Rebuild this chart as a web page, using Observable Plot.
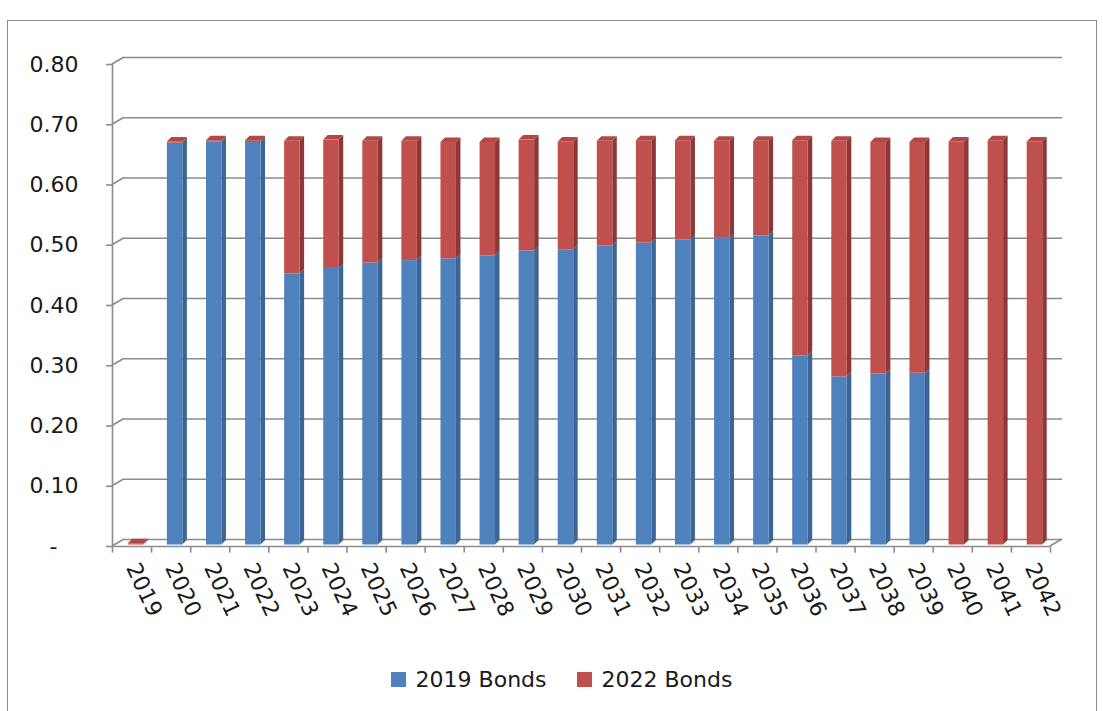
<!DOCTYPE html>
<html>
<head>
<meta charset="utf-8">
<script src="https://cdn.jsdelivr.net/npm/d3@7"></script>
<script src="https://cdn.jsdelivr.net/npm/@observablehq/plot@0.6"></script>
<style>
  html, body { margin: 0; padding: 0; background: #fff; }
  #wrap { position: relative; width: 1103px; height: 711px; overflow: hidden; font-family: "DejaVu Sans", sans-serif; }
  #frame { position: absolute; left: 7px; top: 20px; width: 1090px; height: 700px; border: 1.5px solid #8c8c8c; box-sizing: border-box; }
  #chart { position: absolute; left: 0; top: 0; }
  #legend { position: absolute; top: 667px; left: 0; width: 1103px; display: flex; justify-content: center; gap: 30px; font-size: 22px; color: #1a1a1a; padding-left: 20px; box-sizing: border-box; }
  #legend span.item { display: flex; align-items: center; gap: 10px; }
  #legend span.sw { display: inline-block; width: 15px; height: 15px; }
</style>
</head>
<body>
<div id="wrap">
  <div id="frame"></div>
  <div id="chart"></div>
  <div id="legend"></div>
</div>
<script>
const years = [2019, 2020, 2021, 2022, 2023, 2024, 2025, 2026, 2027, 2028, 2029, 2030,
               2031, 2032, 2033, 2034, 2035, 2036, 2037, 2038, 2039, 2040, 2041, 2042];
const bonds2019 = [0, 0.667, 0.669, 0.668, 0.450, 0.459, 0.468, 0.472, 0.475, 0.480, 0.488, 0.490,
                   0.496, 0.501, 0.506, 0.509, 0.513, 0.314, 0.279, 0.284, 0.285, 0, 0, 0];
const bonds2022 = [0.002, 0.002, 0.002, 0.003, 0.220, 0.213, 0.202, 0.198, 0.193, 0.188, 0.184, 0.179,
                   0.174, 0.170, 0.165, 0.161, 0.157, 0.357, 0.391, 0.384, 0.383, 0.669, 0.671, 0.669];
const seriesNames = ["2019 Bonds", "2022 Bonds"];
const yTicks = [0, 0.1, 0.2, 0.3, 0.4, 0.5, 0.6, 0.7, 0.8];

const frontColor = {"2019 Bonds": "#4f81bd", "2022 Bonds": "#c0504d"};
const sideColor  = {"2019 Bonds": "#3a6595", "2022 Bonds": "#8e3835"};
const topColor   = {"2019 Bonds": "#5a8cc8", "2022 Bonds": "#b24744"};

// stacked table
const rows = [];
years.forEach((yr, i) => {
  const a = bonds2019[i], b = bonds2022[i];
  rows.push({year: yr, series: seriesNames[0], y1: 0, y2: a, top: b <= 0});
  rows.push({year: yr, series: seriesNames[1], y1: a, y2: a + b, top: b > 0});
});
const segs = rows.filter(d => d.y2 > d.y1);
const bounds = years.map(y => y - 0.5).concat([years[years.length - 1] + 0.5]);

const DX = 12, DY = -7;        // back-wall offset
const BX = 4, BY = -1.5;       // bar position (mid depth)
const EX = 4.5, EY = -4.5;     // bar extrusion
const INSET = 11.8;

// 3D faces (sides, tops) and wall diagonals, drawn with Plot's scales
function faces(index, scales) {
  const g = d3.create("svg:g");
  const x = scales.x, y = scales.y;
  for (const d of segs) {
    const xl = x(d.year - 0.5) + INSET + BX, xr = x(d.year + 0.5) - INSET + BX;
    const yt = y(d.y2) + BY, yb = y(d.y1) + BY;
    g.append("path")
      .attr("d", `M${xr},${yb}L${xr + EX},${yb + EY}L${xr + EX},${yt + EY}L${xr},${yt}Z`)
      .attr("fill", sideColor[d.series]);
    if (d.top) {
      g.append("path")
        .attr("d", `M${xl},${yt}L${xl + EX},${yt + EY}L${xr + EX},${yt + EY}L${xr},${yt}Z`)
        .attr("fill", topColor[d.series]);
    }
  }
  return g.node();
}
function walls(index, scales) {
  const g = d3.create("svg:g").attr("stroke", "#8c8c8c").attr("stroke-width", 1.6).attr("fill", "none");
  const x = scales.x, y = scales.y;
  const x0 = x(bounds[0]), x1 = x(bounds[bounds.length - 1]);
  for (const t of yTicks) {
    g.append("path").attr("d", `M${x0},${y(t)}L${x0 + DX},${y(t) + DY}`);
  }
  g.append("path").attr("d", `M${x1},${y(0)}L${x1 + DX},${y(0) + DY}`);
  return g.node();
}

const chart = Plot.plot({
  width: 1103,
  height: 640,
  marginLeft: 112,
  marginRight: 53,
  marginTop: 64,
  marginBottom: 94,
  style: {fontFamily: "DejaVu Sans, sans-serif", fontSize: "22px", background: "transparent", color: "#1a1a1a"},
  x: {type: "linear", domain: [bounds[0], bounds[bounds.length - 1]], axis: null},
  y: {domain: [0, 0.8], axis: null},
  marks: [
    Plot.ruleY(yTicks, {dx: DX, dy: DY, stroke: "#8c8c8c", strokeWidth: 1.6, strokeOpacity: 1}),
    walls,
    Plot.ruleY([0], {stroke: "#8c8c8c", strokeWidth: 1.6}),
    Plot.ruleX([bounds[0]], {y1: 0, y2: 0.8, stroke: "#8c8c8c", strokeWidth: 1.6}),
    Plot.ruleX(bounds, {y1: 0, y2: -0.011, stroke: "#8c8c8c", strokeWidth: 1.6}),
    Plot.axisY({ticks: yTicks, tickSize: 6, tickFormat: () => "", stroke: "#8c8c8c", strokeWidth: 1.6}),
    Plot.axisY({ticks: yTicks, tickSize: 0, tickPadding: 34, fill: "#1a1a1a", fontSize: 22,
                tickFormat: d => d === 0 ? "-\u00a0\u00a0\u00a0" : d.toFixed(2)}),
    Plot.axisX({ticks: years, tickSize: 0, tickPadding: 18, tickRotate: 65, fill: "#1a1a1a", fontSize: 22,
                tickFormat: d => String(d)}),
    faces,
    Plot.rect(segs, {x1: d => d.year - 0.5, x2: d => d.year + 0.5, y1: "y1", y2: "y2",
                     fill: d => frontColor[d.series], insetLeft: INSET, insetRight: INSET, dx: BX, dy: BY})
  ]
});
document.getElementById("chart").appendChild(chart);

const legend = document.getElementById("legend");
for (const s of seriesNames) {
  const item = document.createElement("span");
  item.className = "item";
  const sw = document.createElement("span");
  sw.className = "sw";
  sw.style.background = frontColor[s];
  item.appendChild(sw);
  item.appendChild(document.createTextNode(s));
  legend.appendChild(item);
}
</script>
</body>
</html>
